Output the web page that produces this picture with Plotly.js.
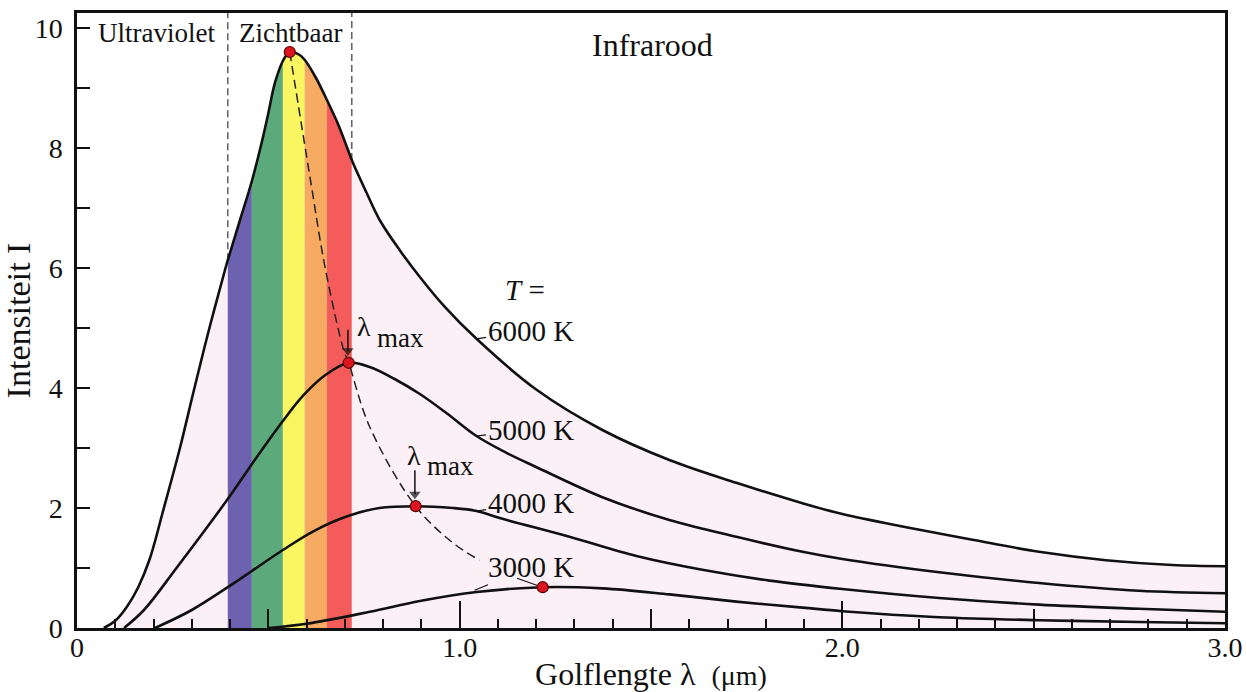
<!DOCTYPE html>
<html>
<head>
<meta charset="utf-8">
<script src="https://cdn.plot.ly/plotly-3.0.1.min.js"></script>
<style>
  html, body { margin: 0; padding: 0; background: #fff; }
  #chart { width: 1246px; height: 692px; }
</style>
</head>
<body>
<div id="chart"></div>
<script>
// ---- data ----
const x6000 = [0.07, 0.10, 0.13, 0.16, 0.19, 0.227, 0.269, 0.305, 0.344, 0.386, 0.394, 0.426, 0.457, 0.483, 0.499, 0.517, 0.538, 0.556, 0.582, 0.595, 0.626, 0.653, 0.682, 0.708, 0.718, 0.757, 0.791, 0.843, 0.896, 0.96, 1.044, 1.201, 1.373, 1.548, 1.723, 1.896, 2.0, 2.167, 2.34, 2.514, 2.689, 2.862, 3.0];
const y6000 = [0, 0.12, 0.35, 0.68, 1.15, 2.0, 3.0, 3.95, 4.95, 5.95, 6.13, 6.8, 7.45, 8.1, 8.55, 9.08, 9.45, 9.6, 9.55, 9.47, 9.15, 8.8, 8.4, 7.97, 7.8, 7.25, 6.8, 6.3, 5.85, 5.36, 4.82, 3.97, 3.3, 2.8, 2.42, 2.08, 1.9, 1.68, 1.47, 1.27, 1.13, 1.05, 1.03];

const x5000 = [0.123, 0.175, 0.26, 0.394, 0.47, 0.538, 0.592, 0.65, 0.71, 0.765, 0.83, 0.896, 0.966, 1.044, 1.122, 1.201, 1.373, 1.548, 1.723, 1.896, 2.0, 2.253, 2.514, 2.775, 3.0];
const y5000 = [0, 0.3, 1.0, 2.15, 2.85, 3.45, 3.88, 4.22, 4.42, 4.35, 4.15, 3.9, 3.58, 3.2, 2.92, 2.68, 2.18, 1.8, 1.52, 1.27, 1.15, 0.93, 0.75, 0.62, 0.58];

const x4000 = [0.204, 0.30, 0.394, 0.457, 0.538, 0.62, 0.71, 0.79, 0.885, 0.982, 1.044, 1.112, 1.287, 1.462, 1.634, 1.81, 2.0, 2.253, 2.514, 2.775, 3.0];
const y4000 = [0, 0.3, 0.68, 0.95, 1.3, 1.62, 1.87, 2.0, 2.03, 2.0, 1.95, 1.82, 1.52, 1.2, 0.97, 0.79, 0.65, 0.5, 0.39, 0.32, 0.27];

const x3000 = [0.50, 0.60, 0.765, 0.896, 1.044, 1.217, 1.373, 1.548, 1.723, 1.896, 2.0, 2.253, 2.514, 2.775, 3.0];
const y3000 = [0, 0.07, 0.27, 0.45, 0.6, 0.68, 0.66, 0.56, 0.44, 0.34, 0.28, 0.18, 0.13, 0.10, 0.08];

// peaks (lambda max) and the dashed line through them
const peakX = [0.556, 0.71, 0.885, 1.217];
const peakY = [9.6, 4.42, 2.03, 0.68];
const wienX = [0.556, 0.61, 0.648, 0.697, 0.71, 0.765, 0.885, 0.982, 1.052];
const wienY = [9.6, 7.47, 6.02, 4.63, 4.42, 3.35, 2.03, 1.42, 1.13];

// visible spectrum bands
const bandEdges = [0.394, 0.457, 0.538, 0.595, 0.653, 0.718];
const bandColors = ['rgb(109,98,176)', 'rgb(92,170,124)', 'rgb(250,246,98)', 'rgb(247,170,98)', 'rgb(244,92,92)'];

const xTickVals = [0, 1, 2, 3];
const xTickText = ['0', '1.0', '2.0', '3.0'];
const curveLabels = ['6000 K', '5000 K', '4000 K', '3000 K'];

// ---- figure ----
const Y_MAX = 10.25;
const FONT = 'Liberation Serif, Times New Roman, serif';
const INK = '#111';
const SMOOTH = 1.0;
const traces = [];

// pink area under the 6000 K curve
traces.push({x: x6000, y: y6000, mode: 'lines', fill: 'tozeroy', fillcolor: 'rgb(252,240,247)',
  line: {width: 0, shape: 'spline', smoothing: SMOOTH}, hoverinfo: 'skip'});

// coloured bands of the visible spectrum (under the 6000 K curve)
for (let i = 0; i < bandColors.length; i++) {
  const bx = [], by = [];
  for (let k = 0; k < x6000.length; k++) {
    if (x6000[k] >= bandEdges[i] - 1e-9 && x6000[k] <= bandEdges[i + 1] + 1e-9) {
      bx.push(x6000[k]); by.push(y6000[k]);
    }
  }
  traces.push({x: bx, y: by, mode: 'lines', fill: 'tozeroy', fillcolor: bandColors[i],
    line: {width: 0, shape: 'spline', smoothing: SMOOTH}, hoverinfo: 'skip'});
}

// dashed region borders (ultraviolet | visible | infrared)
[0, bandEdges.length - 1].forEach(function (idx) {
  const ex = bandEdges[idx];
  const k = x6000.indexOf(ex);
  traces.push({x: [ex, ex], y: [y6000[k], Y_MAX], mode: 'lines',
    line: {color: '#666', width: 1.6, dash: '7px,4px'}, hoverinfo: 'skip'});
});

// the four curves
[[x6000, y6000], [x5000, y5000], [x4000, y4000], [x3000, y3000]].forEach(function (c, i) {
  traces.push({x: c[0], y: c[1], mode: 'lines', name: curveLabels[i],
    line: {color: INK, width: 2.6, shape: 'spline', smoothing: SMOOTH}});
});

// dashed lambda-max line (on the labelled overlay x axis, same range)
traces.push({x: wienX, y: wienY, mode: 'lines', xaxis: 'x2',
  line: {color: '#222', width: 1.5, dash: '9px,5px', shape: 'spline', smoothing: SMOOTH}, hoverinfo: 'skip'});

// lambda-max arrows pointing down onto the 5000 K and 4000 K peaks
[[1, 0.55], [2, 0.6]].forEach(function (a) {
  const px = peakX[a[0]] - 0.002, py = peakY[a[0]];
  traces.push({x: [px, px], y: [py + a[1], py + 0.2], mode: 'lines+markers', xaxis: 'x2',
    line: {color: INK, width: 1.5},
    marker: {symbol: ['line-ew', 'triangle-down'], size: [1, 10], color: INK, line: {width: 0}},
    hoverinfo: 'skip'});
});

// leader from the 3000 K label to its peak dot
traces.push({x: [peakX[3] - 0.067, peakX[3] - 0.01], y: [peakY[3] + 0.15, peakY[3] + 0.02], mode: 'lines',
  xaxis: 'x2', line: {color: INK, width: 1.2}, hoverinfo: 'skip'});

// red peak dots
traces.push({x: peakX, y: peakY, mode: 'markers', cliponaxis: false, xaxis: 'x2',
  marker: {color: 'rgb(220,20,30)', size: 11, line: {color: '#5a0000', width: 1.2}}});

const ann = [];
function txt(text, x, y, size, extra) {
  ann.push(Object.assign({text: text, x: x, y: y, xref: 'x', yref: 'y', showarrow: false,
    font: {family: FONT, size: size, color: INK}, xanchor: 'center', yanchor: 'middle'}, extra || {}));
}
txt('Ultraviolet', 0.208, 9.92, 27);
txt('Zichtbaar', 0.559, 9.92, 27);
txt('Infrarood', 1.504, 9.72, 32);
txt('<i>T</i> =', 1.17, 5.63, 29);

// curve labels with short leader lines
const labelPts = [[1.044, 4.82, 54, -8], [1.044, 3.2, 54, -6], [1.044, 1.95, 54, -8], [1.039, 0.63, 56, -23]];
labelPts.forEach(function (p, i) {
  ann.push({text: curveLabels[i], x: p[0], y: p[1], xref: 'x', yref: 'y', showarrow: true,
    arrowhead: 0, arrowwidth: 1.2, arrowcolor: INK, ax: p[2], ay: p[3], standoff: 0,
    font: {family: FONT, size: 29, color: INK}});
});

// lambda-max labels (lambda with a lowered "max")
txt('λ', 0.773, 5.03, 28, {xanchor: 'right'});
txt('max', 0.779, 4.83, 27, {xanchor: 'left'});
txt('λ', 0.903, 2.87, 28, {xanchor: 'right'});
txt('max', 0.909, 2.70, 27, {xanchor: 'left'});

const layout = {
  width: 1246, height: 692,
  margin: {l: 77, r: 21, t: 13, b: 64},
  paper_bgcolor: '#fff', plot_bgcolor: '#fff',
  showlegend: false,
  font: {family: FONT, color: INK},
  xaxis: {
    range: [0, 3], showline: true, linewidth: 2.6, linecolor: INK, mirror: true,
    ticks: 'inside', tickmode: 'linear', tick0: 0, dtick: 0.5, ticklen: 19, tickwidth: 2, tickcolor: INK,
    showticklabels: false, showgrid: false, zeroline: false,
    minor: {tickmode: 'linear', tick0: 0, dtick: 0.1, ticklen: 9, tickwidth: 2, tickcolor: INK, ticks: 'inside', showgrid: false}
  },
  xaxis2: {
    overlaying: 'x', matches: 'x', side: 'bottom', range: [0, 3], showline: false, showgrid: false, zeroline: false,
    tickmode: 'array', tickvals: xTickVals, ticktext: xTickText,
    ticks: 'inside', ticklen: 27, tickwidth: 2, tickcolor: INK,
    tickfont: {family: FONT, size: 28, color: INK},
    title: {text: 'Golflengte λ  <span style="font-size:28px">(μm)</span>', standoff: 0,
      font: {family: FONT, size: 32, color: INK}}
  },
  yaxis: {
    range: [0, Y_MAX], showline: true, linewidth: 2.6, linecolor: INK, mirror: true,
    ticks: 'inside', tickmode: 'linear', tick0: 0, dtick: 2, ticklen: 13, tickwidth: 2, tickcolor: INK,
    tickfont: {family: FONT, size: 28, color: INK}, ticklabelstandoff: 6,
    showgrid: false, zeroline: false,
    minor: {tickmode: 'linear', tick0: 0, dtick: 1, ticklen: 13, tickwidth: 2, tickcolor: INK, ticks: 'inside', showgrid: false},
    title: {text: 'Intensiteit I', standoff: 0, font: {family: FONT, size: 34, color: INK}}
  },
  annotations: ann
};

Plotly.newPlot('chart', traces, layout, {displayModeBar: false, staticPlot: true});
</script>
</body>
</html>
